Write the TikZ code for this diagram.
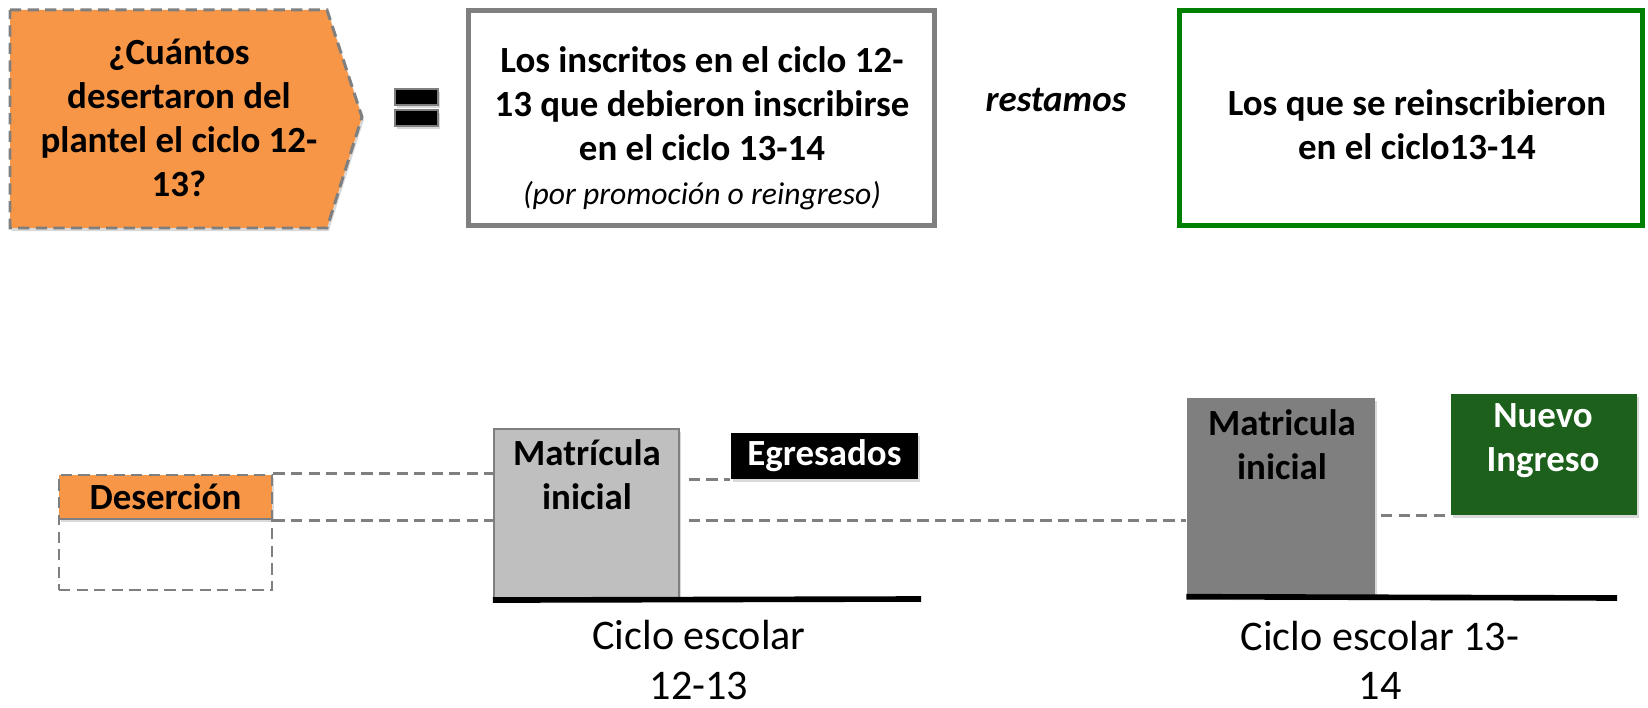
\documentclass[tikz,border=0pt]{standalone}
\usepackage{fontspec}
\setmainfont{Carlito}
\usetikzlibrary{shadows}
\definecolor{naranja}{HTML}{F79646}
\definecolor{gris}{HTML}{7F7F7F}
\definecolor{grisclaro}{HTML}{BFBFBF}
\definecolor{verde}{HTML}{008000}
\definecolor{verdeosc}{HTML}{1C601C}
\tikzset{
	negrita/.style={font=\bfseries\fontsize{10.5}{12.5}\selectfont, align=center},
	guion/.style={draw=gris, line width=0.85pt, dash pattern=on 3.2pt off 1.8pt},
	sombra/.style={drop shadow={shadow xshift=0.5pt, shadow yshift=-0.9pt, opacity=0.3}},
	barra/.style={fill=black, draw=gris, line width=0.3pt, inner sep=0pt, minimum width=0.43cm, minimum height=0.16cm, sombra},
	ciclo/.style={font=\fontsize{12}{14}\selectfont, align=center}
}
\begin{document}
\begin{tikzpicture}
	\useasboundingbox (0,0) rectangle (16.48,7.07);
	
	\draw[guion, fill=naranja, sombra] (0.10,6.97) -- (3.27,6.97) -- (3.62,5.90) -- (3.27,4.79) -- (0.10,4.79) -- cycle;
	\node[negrita] (pregunta) at (1.79,5.89) {¿Cuántos\\desertaron del\\plantel el ciclo 12-\\13?};
	\node[barra] (igualA) at (4.165,6.10) {};
	\node[barra] (igualB) at (4.165,5.89) {};
	
	\node[draw=gris, line width=1.4pt, minimum width=4.66cm, minimum height=2.15cm] (inscritos) at (7.015,5.89) {};
	\node[negrita] (txtinscritos) at (7.02,5.79) {Los inscritos en el ciclo 12-\\13 que debieron inscribirse\\en el ciclo 13-14\\{\mdseries\itshape\fontsize{9}{12.5}\selectfont (por promoción o reingreso)}};
	\node[font=\bfseries\itshape\fontsize{10.5}{12.5}\selectfont] (restamos) at (10.56,6.07) {restamos};
	\node[draw=verde, line width=1.4pt, minimum width=4.63cm, minimum height=2.15cm] (reinscritos) at (14.11,5.89) {};
	\node[negrita] (txtreinscritos) at (14.17,5.82) {Los que se reinscribieron\\en el ciclo13-14};
	
	% ciclo 12-13
	\node[guion, fill=naranja, negrita, minimum width=2.13cm, minimum height=0.44cm, inner sep=0pt, sombra] (desercion) at (1.655,2.10) {Deserción};
	\node[guion, minimum width=2.13cm, minimum height=0.71cm, inner sep=0pt] (hueco) at (1.655,1.525) {};
	\node[fill=grisclaro, draw=gris, line width=0.6pt, minimum width=1.85cm, minimum height=1.70cm, sombra] (matA) at (5.865,1.93) {};
	\node[negrita] (txtmatA) at (5.87,2.32) {Matrícula\\inicial};
	\node[fill=black, text=white, negrita, minimum width=1.87cm, minimum height=0.46cm, inner sep=0pt, sombra] (egresados) at (8.245,2.51) {Egresados};
	\coordinate (finA) at (9.21,1.08);
	\draw[line width=1.6pt, sombra] (matA.south west) -- (finA);
	
	% ciclo 13-14
	\node[fill=gris, minimum width=1.88cm, minimum height=1.98cm, sombra] (matB) at (12.81,2.10) {};
	\node[negrita] (txtmatB) at (12.82,2.625) {Matricula\\inicial};
	\node[fill=verdeosc, minimum width=1.86cm, minimum height=1.21cm, sombra] (nuevo) at (15.44,2.525) {};
	\node[negrita, text=white] (txtnuevo) at (15.43,2.665) {Nuevo\\Ingreso};
	\coordinate (finB) at (16.17,1.09);
	\draw[line width=1.6pt, sombra] (matB.south west) -- (finB);
	
	\draw[guion] (desercion.north east) -- (desercion.north east -| matA.west);
	\draw[guion] (desercion.south east) -- (desercion.south east -| matA.west);
	\draw[guion, shorten <=2.5pt] (matA.east |- egresados.south) -- (egresados.south west);
	\draw[guion, shorten <=2.5pt] (desercion.south east -| matA.east) -- (desercion.south east -| matB.west);
	\draw[guion, shorten <=1.5pt] (matB.east |- nuevo.south) -- (nuevo.south west);
	
	\node[ciclo] (cicloA) at (6.99,0.47) {Ciclo escolar\\12-13};
	\node[ciclo] (cicloB) at (13.80,0.47) {Ciclo escolar 13-\\14};
\end{tikzpicture}
\end{document}
